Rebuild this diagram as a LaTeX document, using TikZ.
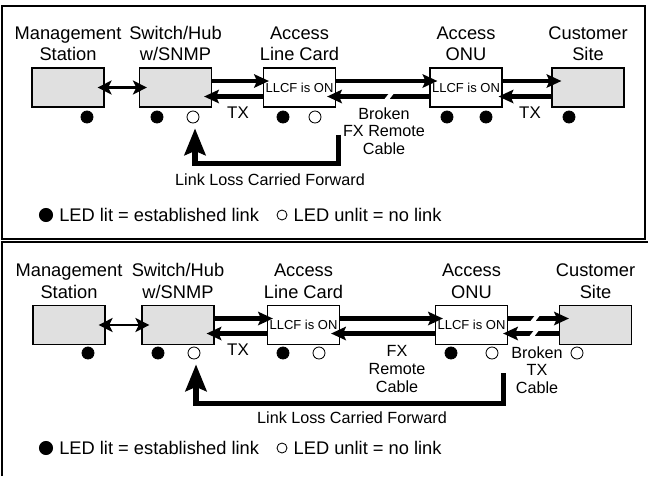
\documentclass[tikz,border=0pt]{standalone}
\usepackage{fontspec}
\setmainfont{Liberation Sans}
\usetikzlibrary{arrows.meta, positioning, calc}
\definecolor{boxgrey}{HTML}{E0E0E0}

\begin{document}
\begin{tikzpicture}[
    x=0.025cm, y=-0.025cm,
    >=Stealth,
    box/.style={
        rectangle,
        draw,
        line width=0.8pt,
        minimum width=1.8cm,
        minimum height=0.975cm,
        inner sep=0pt,
        fill=white,
        font=\fontsize{9.25}{11}\selectfont,
    },
    greybox/.style={box, fill=boxgrey},
    title/.style={align=center, inner sep=0pt, font=\fontsize{13}{15.5}\selectfont},
    note/.style={align=center, inner sep=0pt, font=\fontsize{11.5}{12.5}\selectfont},
    tx/.style={inner sep=0pt, font=\fontsize{12}{14}\selectfont},
    key/.style={inner sep=0pt, font=\fontsize{13}{15}\selectfont},
    ledon/.style={circle, draw, fill=black, line width=0.6pt, minimum size=0.3cm, inner sep=0pt},
    ledoff/.style={circle, draw, fill=white, line width=0.6pt, minimum size=0.3cm, inner sep=0pt},
    keyon/.style={ledon, minimum size=0.33cm},
    keyoff/.style={ledoff, minimum size=0.25cm},
    link/.style={
        line width=1.5pt,
        {Stealth[length=10pt, width=10pt, inset=2.5pt]}-{Stealth[length=10pt, width=10pt, inset=2.5pt]},
    },
    cable/.style={
        line width=3pt,
        -{Stealth[length=10.5pt, width=9.5pt, inset=2pt]},
    },
    llcf/.style={
        line width=3.6pt,
        -{Stealth[length=19pt, width=15pt, inset=3pt]},
    },
    brk/.style={fill=white},
    frame/.style={line width=1.4pt},
]

\useasboundingbox (0,0) rectangle (648,476);

% ---------------- Upper panel: broken FX remote cable ----------------
\draw[frame] (2,6) rectangle (645,239);

% Boxes
\node[greybox] (mgmtA) at (68,87.5) {};
\node[greybox] (swA) at (175.5,87.5) {};
\node[box] (lcA) at (299.5,87.5) {LLCF is ON};
\node[box] (onuA) at (466,87.5) {LLCF is ON};
\node[greybox] (custA) at (588,87.5) {};

\node[title, above=0.15cm of mgmtA] (mgmtAt) {Management\\Station};
\node[title, above=0.15cm of swA] (swAt) {Switch/Hub\\w/SNMP};
\node[title, above=0.15cm of lcA] (lcAt) {Access\\Line Card};
\node[title, above=0.15cm of onuA] (onuAt) {Access\\ONU};
\node[title, above=0.15cm of custA] (custAt) {Customer\\Site};

% LEDs
\node[ledon] (mgmtAon) at (87,117) {};
\node[ledon] (swAon) at (157,117) {};
\node[ledoff] (swAoff) at (193,117) {};
\node[ledon] (lcAon) at (283,117) {};
\node[ledoff] (lcAoff) at (315,117) {};
\node[ledon] (onuAon) at (447,117) {};
\node[ledon] (onuAon2) at (486,117) {};
\node[ledon] (custAon) at (569,117) {};

% Cables
\draw[link] ($(mgmtA.east)+(-7,0)$) -- ($(swA.west)+(8,0)$);
\draw[cable] ($(swA.east)+(0,-6.5)$) -- ($(lcA.west)+(6,-6.5)$);
\draw[cable] ($(lcA.west)+(0,9)$) -- ($(swA.east)+(-8,9)$);
\draw[cable] ($(lcA.east)+(0,-6.5)$) -- ($(onuA.west)+(8,-6.5)$);
\draw[cable] ($(onuA.west)+(0,9)$) -- ($(lcA.east)+(-9,9)$);
\draw[cable] ($(onuA.east)+(0,-6.5)$) -- ($(custA.west)+(10,-6.5)$);
\draw[cable] ($(custA.west)+(0,9)$) -- ($(onuA.east)+(-4,9)$);
\fill[brk] (383,101) -- (388,101) -- (395,92) -- (390,92) -- cycle;

\node[tx] (txA1) at (238,113) {TX};
\node[tx] (txA2) at (530,113) {TX};
\node[note] (fxA) at (384,131) {Broken\\FX Remote\\Cable};

% Link loss carried forward
\draw[llcf] ($(lcA.south east)+(2,27)$) -- ++(0,29) -| ($(swAoff.south)+(2,5)$);
\node[note] (llcfA) at (270,180) {Link Loss Carried Forward};

% Legend
\node[keyon] (keyAon) at (46,215) {};
\node[key, right=0.15cm of keyAon] (keyAontxt) {LED lit = established link};
\node[keyoff] (keyAoff) at (282,215) {};
\node[key, right=0.15cm of keyAoff] (keyAofftxt) {LED unlit = no link};

% ---------------- Lower panel: broken TX cable ----------------
\draw[frame] (2,476) |- (648,242);

% Boxes
\node[greybox] (mgmtB) at (69,325) {};
\node[greybox] (swB) at (178,325) {};
\node[box] (lcB) at (303.5,325) {LLCF is ON};
\node[box] (onuB) at (471.5,325) {LLCF is ON};
\node[greybox] (custB) at (595.5,325) {};

\node[title, above=0.15cm of mgmtB] (mgmtBt) {Management\\Station};
\node[title, above=0.15cm of swB] (swBt) {Switch/Hub\\w/SNMP};
\node[title, above=0.15cm of lcB] (lcBt) {Access\\Line Card};
\node[title, above=0.15cm of onuB] (onuBt) {Access\\ONU};
\node[title, above=0.15cm of custB] (custBt) {Customer\\Site};

% LEDs
\node[ledon] (mgmtBon) at (88,353) {};
\node[ledon] (swBon) at (158,353) {};
\node[ledoff] (swBoff) at (194,353) {};
\node[ledon] (lcBon) at (283,353) {};
\node[ledoff] (lcBoff) at (319,353) {};
\node[ledon] (onuBon) at (451,353) {};
\node[ledoff] (onuBoff) at (492,353) {};
\node[ledoff] (custBoff) at (577,353) {};

% Cables
\draw[link] ($(mgmtB.east)+(-7,0)$) -- ($(swB.west)+(8,0)$);
\draw[cable] ($(swB.east)+(0,-6.5)$) -- ($(lcB.west)+(6,-6.5)$);
\draw[cable] ($(lcB.west)+(0,8.5)$) -- ($(swB.east)+(-8,8.5)$);
\draw[cable] ($(lcB.east)+(0,-6.5)$) -- ($(onuB.west)+(8,-6.5)$);
\draw[cable] ($(onuB.west)+(0,8.5)$) -- ($(lcB.east)+(-9,8.5)$);
\draw[cable] ($(onuB.east)+(0,-6.5)$) -- ($(custB.west)+(10,-6.5)$);
\draw[cable] ($(custB.west)+(0,8.5)$) -- ($(onuB.east)+(-5,8.5)$);
\fill[brk] (529,323) -- (534,323) -- (541,314) -- (536,314) -- cycle;
\fill[brk] (528,338) -- (533,338) -- (540,329) -- (535,329) -- cycle;

\node[tx] (txB1) at (238,350) {TX};
\node[note] (fxB) at (397,369) {FX\\Remote\\Cable};
\node[note] (brkB) at (537,370) {Broken\\TX\\Cable};

% Link loss carried forward
\draw[llcf] ($(onuB.south east)+(-5,28)$) -- ++(0,30) -| ($(swBoff.south)+(2,5)$);
\node[note] (llcfB) at (352,418) {Link Loss Carried Forward};

% Legend
\node[keyon] (keyBon) at (46,448) {};
\node[key, right=0.15cm of keyBon] (keyBontxt) {LED lit = established link};
\node[keyoff] (keyBoff) at (282,448) {};
\node[key, right=0.15cm of keyBoff] (keyBofftxt) {LED unlit = no link};

\end{tikzpicture}
\end{document}
